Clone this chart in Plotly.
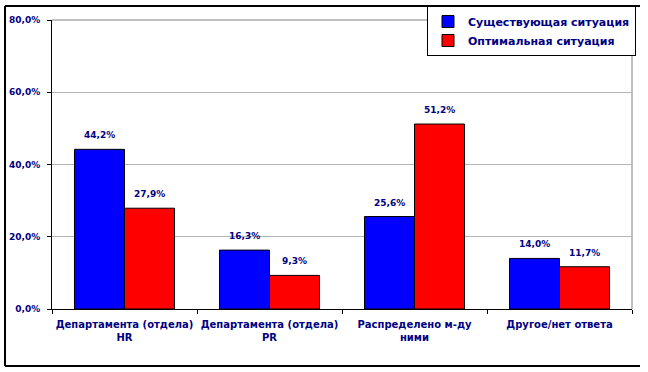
import plotly.graph_objects as go

categories = ["Департамента (отдела)<br>HR", "Департамента (отдела)<br>PR",
              "Распределено м-ду<br>ними", "Другое/нет ответа"]
series_names = ["Существующая ситуация", "Оптимальная ситуация"]
current_vals = [44.2, 16.3, 25.6, 14.0]
optimal_vals = [27.9, 9.3, 51.2, 11.7]
y_ticks = [0, 20, 40, 60, 80]

NAVY = "#000080"
FONT = "DejaVu Sans"

def fmt(v):
    return f"{v:.1f}".replace(".", ",") + "%"

L, R, T, B = 52, 16, 20, 63
W, H = 648, 372
pw, ph = W - L - R, H - T - B
BARGAP = 0.31
bar_px = pw / len(categories) * (1 - BARGAP) / 2

def px(x):
    return (x - L) / pw

def py(y):
    return (H - B - y) / ph

fig = go.Figure()
annotations = []
series = [(series_names[0], current_vals, "#0000FF", -1),
          (series_names[1], optimal_vals, "#FF0000", 1)]
for name, vals, color, side in series:
    fig.add_trace(go.Bar(
        x=categories, y=vals, name=name,
        marker=dict(color=color, line=dict(color="black", width=1)),
        cliponaxis=False,
    ))
    for c, v in zip(categories, vals):
        annotations.append(dict(
            x=c, y=v, xref="x", yref="y", text=fmt(v), showarrow=False,
            xshift=side * bar_px / 2, yshift=14,
            font=dict(family=FONT, size=9, color=NAVY, weight="bold"),
        ))

fig.update_layout(
    width=W, height=H,
    margin=dict(l=L, r=R, t=T, b=B, autoexpand=False),
    paper_bgcolor="white", plot_bgcolor="white",
    barmode="group", bargap=BARGAP, bargroupgap=0,
    separators=", ",
    font=dict(family=FONT, color=NAVY, size=10),
    showlegend=True,
    legend=dict(
        x=px(636), y=py(6), xanchor="right", yanchor="top",
        bgcolor="white", bordercolor="black", borderwidth=1,
        font=dict(family=FONT, size=11, color=NAVY, weight="bold"),
        tracegroupgap=0, itemwidth=30,
    ),
    xaxis=dict(
        showline=True, linecolor="black", linewidth=1,
        ticks="outside", tickson="boundaries", ticklen=4, tickcolor="black",
        tickfont=dict(family=FONT, size=10, color=NAVY, weight="bold"),
        tickangle=0, automargin=False, ticklabelstandoff=6,
        showgrid=False, fixedrange=True,
    ),
    yaxis=dict(
        range=[0, 80], tickvals=y_ticks,
        ticktext=[fmt(v) for v in y_ticks],
        showline=True, linecolor="black", linewidth=1,
        ticks="outside", ticklen=4, tickcolor="black",
        tickfont=dict(family=FONT, size=9, color=NAVY, weight="bold"),
        ticklabelstandoff=5,
        showgrid=True, gridcolor="#B4B4B4", gridwidth=1,
        zeroline=False, fixedrange=True, automargin=False,
    ),
    annotations=annotations,
    shapes=[
        dict(type="line", xref="paper", yref="paper", x0=0, x1=1, y0=1, y1=1,
             line=dict(color="#808080", width=1), layer="below"),
        dict(type="line", xref="paper", yref="paper", x0=1, x1=1, y0=0, y1=1,
             line=dict(color="#808080", width=1), layer="below"),
        # outer frame (left, top, bottom)
        dict(type="line", xref="paper", yref="paper", x0=px(5), x1=px(5),
             y0=py(366), y1=py(6), line=dict(color="black", width=2)),
        dict(type="line", xref="paper", yref="paper", x0=px(5), x1=px(640),
             y0=py(6), y1=py(6), line=dict(color="black", width=2)),
        dict(type="line", xref="paper", yref="paper", x0=px(5), x1=px(640),
             y0=py(366), y1=py(366), line=dict(color="black", width=2)),
    ],
)

fig.write_html("out.html", config={"displayModeBar": False},
               post_script="document.body.style.margin='0';document.body.style.overflow='hidden';")
